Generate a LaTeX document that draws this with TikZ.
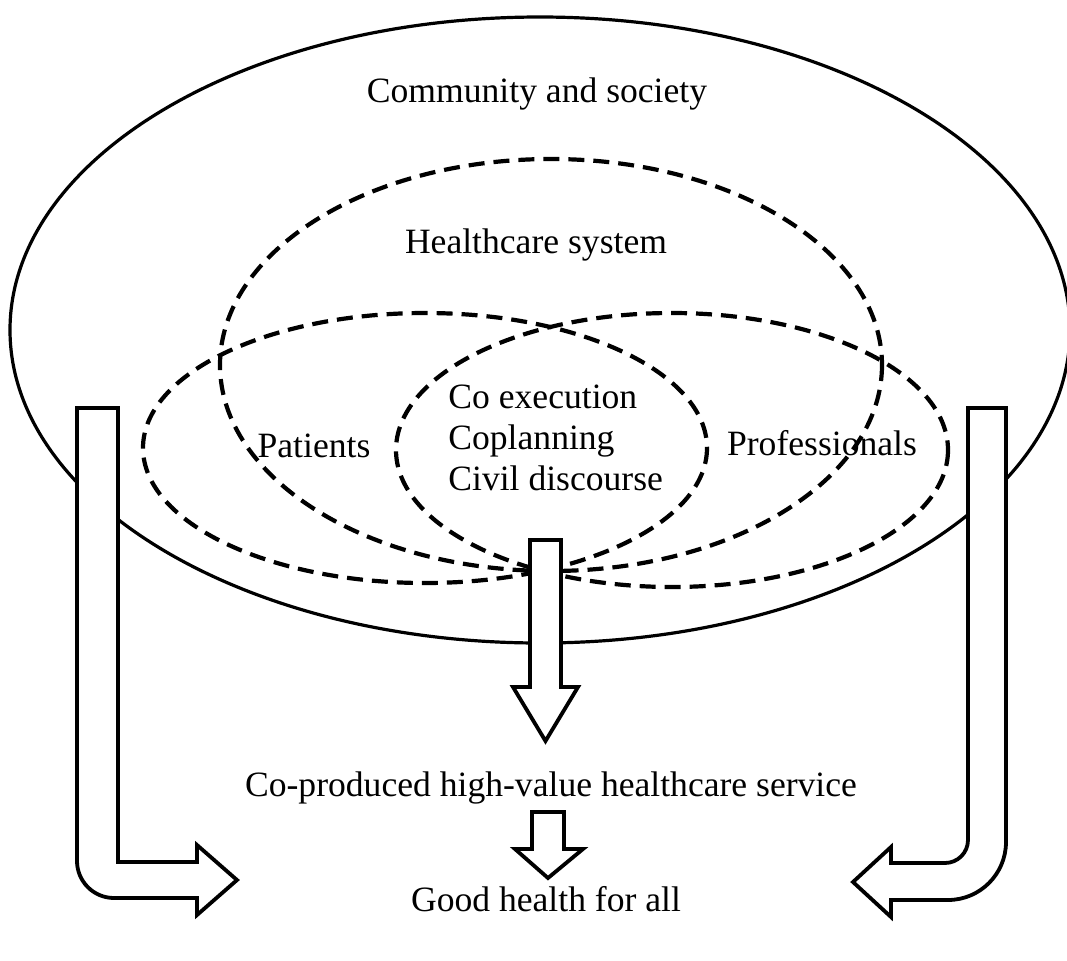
\documentclass[tikz,border=0pt]{standalone}
\usepackage{fontspec}
\setmainfont{Liberation Serif}
\usetikzlibrary{positioning}

\begin{document}
\begin{tikzpicture}[x=0.5pt,y=-0.5pt,
    txt/.style={font=\fontsize{17.8}{20.5}\selectfont,inner sep=0pt},
    outerring/.style={line width=1.6pt},
    group/.style={dash pattern=on 8pt off 4.5pt,line width=2.1pt},
    blockarrow/.style={draw,fill=white,line width=1.9pt,line join=miter}]

  \useasboundingbox[fill=white] (0,0) rectangle (1067,960);

  % the outer setting and the overlapping groups inside it
  \draw[outerring] (540,330) ellipse [x radius=530,y radius=313];
  \draw[group] (551,365) ellipse [x radius=331,y radius=206];
  \draw[group] (425,448) ellipse [x radius=282,y radius=135];
  \draw[group] (672,450) ellipse [x radius=276,y radius=137];

  \node[txt,anchor=base] (society) at (537,102) {Community and society};
  \node[txt,anchor=base] (system)  at (536,253) {Healthcare system};
  \node[txt,anchor=base] (patients) at (314,457) {Patients};
  \node[txt,anchor=base] (profs)   at (822,455) {Professionals};
  \node[txt,anchor=base west,align=left] (core) at (448,490)
    {Co execution\\Coplanning\\Civil discourse};

  \node[txt,anchor=base] (service) at (551,796) {Co-produced high-value healthcare service};
  \node[txt,anchor=base] (health)  at (546,911) {Good health for all};

  % block arrows
  \draw[blockarrow] (530,540) -- (561,540) -- (561,687) -- (578,687)
    -- (545.5,741) -- (513,687) -- (530,687) -- cycle;
  \draw[blockarrow] (532,812) -- (564,812) -- (564,849) -- (583,849)
    -- (548,878) -- (515,849) -- (532,849) -- cycle;

  % bent arrows at the sides
  \draw[blockarrow] (77,408) -- (118,408) -- (118,862) -- (197,862)
    -- (197,845) -- (237,880) -- (197,915) -- (197,898) -- (114,898)
    .. controls (93.6,898) and (77,881.4) .. (77,861) -- cycle;
  \draw[blockarrow] (968,408) -- (1006,408) -- (1006,842)
    .. controls (1006,874) and (980,900) .. (948,900) -- (891,900)
    -- (891,917) -- (853,882) -- (891,847) -- (891,863) -- (945,863)
    .. controls (957.7,863) and (968,852.7) .. (968,840) -- cycle;

\end{tikzpicture}
\end{document}
